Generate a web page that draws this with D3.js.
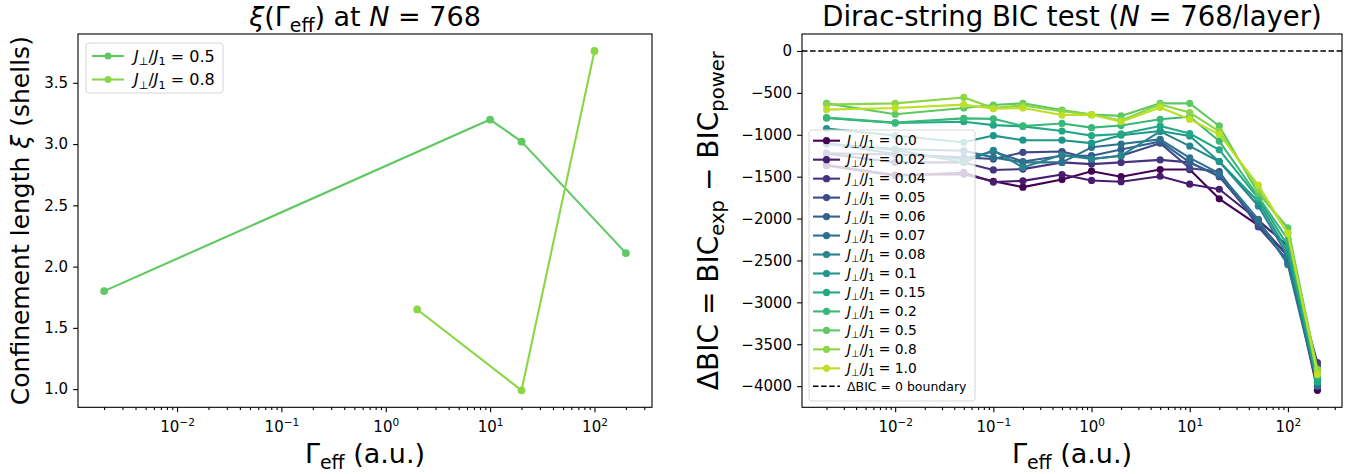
<html>
<head>
<meta charset="utf-8">
<script type="text/javascript" src="https://cdn.jsdelivr.net/npm/d3@7/dist/d3.min.js"></script>
<style>
    body { margin: 0; background: white; }
    svg text { font-family: "DejaVu Sans", sans-serif; fill: black; }
    .tick line { stroke: black; stroke-width: 1.1; }
    .frame { fill: none; stroke: black; stroke-width: 1.1; }
</style>
</head>
<body>
<script>
// ---- data ----

// left panel: xi(Gamma_eff)
var xiLabels = ["0.5", "0.8"];
var xiGamma = [
    [0.002, 10, 20, 200],
    [2, 20, 100]
];
var xiValues = [
    [1.80, 3.20, 3.02, 2.11],
    [1.65, 0.99, 3.76]
];
var xiColorIdx = [10, 11];

// right panel: Delta BIC
var gammaEff = [0.002, 0.01, 0.05, 0.1, 0.2, 0.5, 1, 2, 5, 10, 20, 50, 100, 200];
var jRatios = ["0.0", "0.02", "0.04", "0.05", "0.06", "0.07", "0.08", "0.1", "0.15", "0.2", "0.5", "0.8", "1.0"];
var dBIC = [
    [-1360, -1480, -1470, -1555, -1625, -1535, -1435, -1500, -1415, -1415, -1765, -2080, -2440, -4050],
    [-1370, -1490, -1450, -1565, -1550, -1475, -1545, -1560, -1495, -1590, -1650, -2020, -2330, -4000],
    [-1225, -1330, -1330, -1420, -1410, -1330, -1350, -1330, -1300, -1330, -1500, -2050, -2450, -3720],
    [-1220, -1235, -1270, -1290, -1210, -1200, -1290, -1250, -1100, -1400, -1440, -2100, -2500, -3760],
    [-1100, -1230, -1290, -1200, -1320, -1250, -1250, -1175, -1080, -1330, -1490, -2050, -2530, -3950],
    [-1110, -1170, -1190, -1270, -1330, -1330, -1150, -1110, -1055, -1275, -1460, -2010, -2550, -4000],
    [-1105, -1180, -1330, -1185, -1390, -1240, -1290, -1250, -960, -1135, -1320, -1850, -2450, -3950],
    [-925, -1010, -1090, -1010, -1065, -1065, -1100, -1005, -955, -1015, -1320, -1800, -2400, -3920],
    [-800, -860, -845, -885, -900, -955, -1010, -990, -895, -985, -1180, -1760, -2330, -3950],
    [-795, -855, -805, -810, -895, -865, -915, -890, -815, -785, -1075, -1740, -2250, -3880],
    [-625, -755, -680, -645, -625, -705, -760, -775, -625, -625, -895, -1700, -2110, -3820],
    [-640, -625, -555, -680, -650, -720, -760, -830, -640, -735, -960, -1650, -2170, -3800],
    [-700, -680, -640, -690, -680, -765, -760, -845, -675, -815, -995, -1600, -2180, -3860]
];

var xiTicks = [1.0, 1.5, 2.0, 2.5, 3.0, 3.5];
var bicTicks = [0, -500, -1000, -1500, -2000, -2500, -3000, -3500, -4000];
var logTicks = [1e-2, 1e-1, 1e0, 1e1, 1e2];

// viridis sampled from 0 to 0.9 like the original palette
var color = function(i) { return d3.interpolateViridis(i / 12 * 0.9); };

var width = 1359, height = 474;
var svg = d3.select("body").append("svg")
    .attr("width", width)
    .attr("height", height);

// write mixed text: parts of {t, i, sub, sup}
function rich(sel, parts, size)
{
    var shift = 0;
    parts.forEach(function(p) {
        var target = p.sub ? size * 0.22 : (p.sup ? -size * 0.42 : 0);
        var t = sel.append("tspan").text(p.t).attr("dy", target - shift);
        shift = target;
        if (p.sub || p.sup) t.attr("font-size", size * 0.7);
        if (p.i) t.attr("font-style", "italic");
    });
    return sel;
}

function jLabel(v)
{
    return [{t: "J", i: 1}, {t: "\u22A5", sub: 1}, {t: "/"}, {t: "J", i: 1}, {t: "1", sub: 1}, {t: " = " + v}];
}

function logDomain(vals)
{
    var lo = Math.log10(d3.min(vals)), hi = Math.log10(d3.max(vals));
    var pad = (hi - lo) * 0.05;
    return [Math.pow(10, lo - pad), Math.pow(10, hi + pad)];
}

function linDomain(vals)
{
    var lo = d3.min(vals), hi = d3.max(vals);
    var pad = (hi - lo) * 0.05;
    return [lo - pad, hi + pad];
}

function minorTicks(dom)
{
    var out = [];
    for (var k = -4; k <= 3; k++)
        for (var m = 2; m <= 9; m++) {
            var v = m * Math.pow(10, k);
            if (v >= dom[0] && v <= dom[1]) out.push(v);
        }
    return out;
}

function drawAxes(g, x, y, yTicks, yFmt, box)
{
    // minor x ticks
    g.append("g")
        .attr("transform", "translate(0," + box.y1 + ")")
        .call(d3.axisBottom(x).tickValues(minorTicks(x.domain())).tickSize(2.8).tickFormat(""))
        .call(function(a) { a.select(".domain").remove(); });

    // major x ticks
    var xa = g.append("g")
        .attr("transform", "translate(0," + box.y1 + ")")
        .call(d3.axisBottom(x).tickValues(logTicks).tickSize(4.9).tickPadding(6).tickFormat(""));
    xa.select(".domain").remove();
    xa.selectAll(".tick").append("text")
        .attr("y", 25)
        .attr("text-anchor", "middle")
        .attr("font-size", 15)
        .each(function(d) {
            var e = Math.round(Math.log10(d));
            rich(d3.select(this), [{t: "10"}, {t: (e < 0 ? "\u2212" : "") + Math.abs(e), sup: 1}], 15);
        });

    var ya = g.append("g")
        .attr("transform", "translate(" + box.x0 + ",0)")
        .call(d3.axisLeft(y).tickValues(yTicks).tickSize(4.9).tickPadding(5).tickFormat(yFmt));
    ya.select(".domain").remove();
    ya.selectAll(".tick text").attr("font-size", 15);

    g.append("rect")
        .attr("class", "frame")
        .attr("x", box.x0)
        .attr("y", box.y0)
        .attr("width", box.x1 - box.x0)
        .attr("height", box.y1 - box.y0);
}

function drawSeries(g, x, y, xs, ys, col, r)
{
    var pts = xs.map(function(d, i) { return [d, ys[i]]; });
    g.append("path")
        .datum(pts)
        .attr("fill", "none")
        .attr("stroke", col)
        .attr("stroke-width", 2.1)
        .attr("stroke-linejoin", "round")
        .attr("d", d3.line().x(function(d) { return x(d[0]); }).y(function(d) { return y(d[1]); }));
    g.selectAll(null)
        .data(pts)
        .enter().append("circle")
        .attr("cx", function(d) { return x(d[0]); })
        .attr("cy", function(d) { return y(d[1]); })
        .attr("r", r)
        .attr("fill", col);
}

var fmtMinus = function(d) { return d3.format(".0f")(d).replace("-", "\u2212"); };

// ================= left panel =================
var L = {x0: 78, x1: 652, y0: 34, y1: 407.3};
var xL = d3.scaleLog().domain(logDomain(d3.merge(xiGamma))).range([L.x0, L.x1]);
var yL = d3.scaleLinear().domain(linDomain(d3.merge(xiValues))).range([L.y1, L.y0]);
var gL = svg.append("g");

xiLabels.forEach(function(lab, s) {
    drawSeries(gL, xL, yL, xiGamma[s], xiValues[s], color(xiColorIdx[s]), 3.9);
});
drawAxes(gL, xL, yL, xiTicks, d3.format(".1f"), L);

// legend
var legL = gL.append("g").attr("transform", "translate(86,43)");
legL.append("rect")
    .attr("width", 137).attr("height", 50).attr("rx", 3)
    .attr("fill", "white").attr("fill-opacity", 0.8)
    .attr("stroke", "#d6d6d6");
xiLabels.forEach(function(lab, s) {
    var yy = 13 + s * 23.5;
    var c = color(xiColorIdx[s]);
    legL.append("line").attr("x1", 6).attr("x2", 38).attr("y1", yy).attr("y2", yy)
        .attr("stroke", c).attr("stroke-width", 2.1);
    legL.append("circle").attr("cx", 22).attr("cy", yy).attr("r", 3.5).attr("fill", c);
    rich(legL.append("text").attr("x", 48).attr("y", yy + 5.5).attr("font-size", 16), jLabel(lab), 16);
});

rich(svg.append("text").attr("x", (L.x0 + L.x1) / 2).attr("y", 26).attr("text-anchor", "middle").attr("font-size", 27),
    [{t: "\u03BE", i: 1}, {t: "(\u0393"}, {t: "eff", sub: 1}, {t: ") at "}, {t: "N", i: 1}, {t: " = 768"}], 27);
rich(svg.append("text").attr("x", (L.x0 + L.x1) / 2).attr("y", 463).attr("text-anchor", "middle").attr("font-size", 27),
    [{t: "\u0393"}, {t: "eff", sub: 1}, {t: " (a.u.)"}], 27);
rich(svg.append("text").attr("transform", "translate(29," + (L.y0 + L.y1) / 2 + ") rotate(-90)")
    .attr("text-anchor", "middle").attr("font-size", 25),
    [{t: "Confinement length "}, {t: "\u03BE", i: 1}, {t: " (shells)"}], 25);

// ================= right panel =================
var R = {x0: 802, x1: 1342, y0: 34, y1: 407.3};
var xR = d3.scaleLog().domain(logDomain(gammaEff)).range([R.x0, R.x1]);
var yR = d3.scaleLinear().domain(linDomain(d3.merge(dBIC).concat([0]))).range([R.y1, R.y0]);
var gR = svg.append("g");

dBIC.forEach(function(row, s) {
    drawSeries(gR, xR, yR, gammaEff, row, color(s), 3.6);
});
gR.append("line")
    .attr("x1", R.x0).attr("x2", R.x1)
    .attr("y1", yR(0)).attr("y2", yR(0))
    .attr("stroke", "black").attr("stroke-width", 1.4)
    .attr("stroke-dasharray", "5.5,2.6");
drawAxes(gR, xR, yR, bicTicks, fmtMinus, R);

var legR = gR.append("g").attr("transform", "translate(809,130)");
legR.append("rect")
    .attr("width", 166).attr("height", 271).attr("rx", 3)
    .attr("fill", "white").attr("fill-opacity", 0.8)
    .attr("stroke", "#d6d6d6");
jRatios.forEach(function(lab, s) {
    var yy = 10.7 + s * 18.97;
    var c = color(s);
    legR.append("line").attr("x1", 4).attr("x2", 31).attr("y1", yy).attr("y2", yy)
        .attr("stroke", c).attr("stroke-width", 2.1);
    legR.append("circle").attr("cx", 17.5).attr("cy", yy).attr("r", 3.6).attr("fill", c);
    rich(legR.append("text").attr("x", 38).attr("y", yy + 4.7).attr("font-size", 13.8), jLabel(lab), 13.8);
});
var yb = 10.7 + 13 * 18.97 - 1;
legR.append("line").attr("x1", 4).attr("x2", 31).attr("y1", yb).attr("y2", yb)
    .attr("stroke", "black").attr("stroke-width", 1.4).attr("stroke-dasharray", "5.5,2.6");
legR.append("text").attr("x", 38).attr("y", yb + 4.3).attr("font-size", 12.5).text("\u0394BIC = 0 boundary");

rich(svg.append("text").attr("x", (R.x0 + R.x1) / 2).attr("y", 26).attr("text-anchor", "middle").attr("font-size", 27.5),
    [{t: "Dirac-string BIC test ("}, {t: "N", i: 1}, {t: " = 768/layer)"}], 27.5);
rich(svg.append("text").attr("x", (R.x0 + R.x1) / 2).attr("y", 463).attr("text-anchor", "middle").attr("font-size", 27),
    [{t: "\u0393"}, {t: "eff", sub: 1}, {t: " (a.u.)"}], 27);
rich(svg.append("text").attr("transform", "translate(718," + (R.y0 + R.y1) / 2 + ") rotate(-90)")
    .attr("text-anchor", "middle").attr("font-size", 28),
    [{t: "\u0394BIC = BIC"}, {t: "exp", sub: 1}, {t: " \u2212 BIC"}, {t: "power", sub: 1}], 28);
</script>
</body>
</html>
